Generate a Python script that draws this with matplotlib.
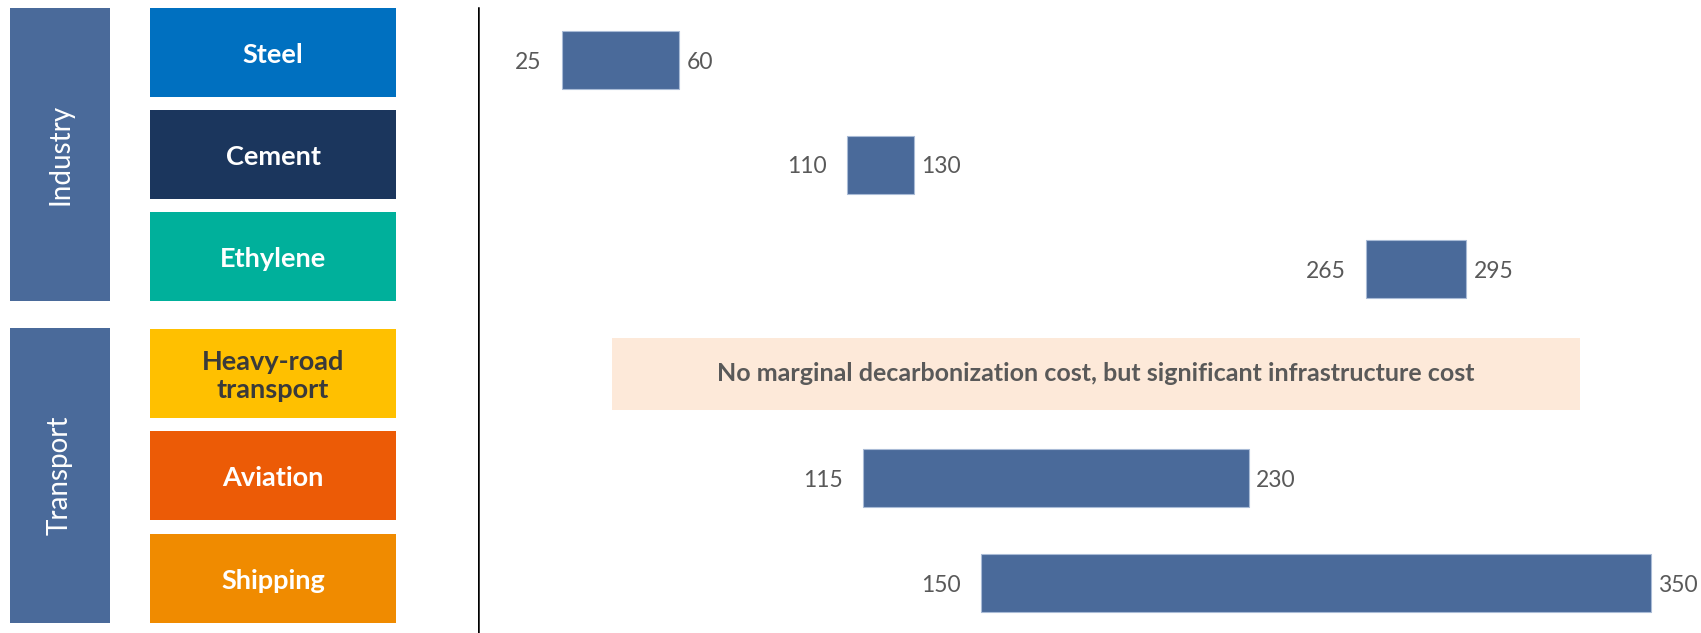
import matplotlib
matplotlib.use("Agg")
import matplotlib.pyplot as plt
from matplotlib.patches import Rectangle

# dados
sectors = ['Steel', 'Cement', 'Ethylene', 'Heavy-road\ntransport', 'Aviation', 'Shipping']
sector_colors = ['#0070C0', '#1B365D', '#00B09B', '#FFC000', '#EC5B06', '#F08B00']
sector_text = ['white', 'white', 'white', '#3A3A3A', 'white', 'white']
groups = ['Industry', 'Transport']
low = [25, 110, 265, None, 115, 150]
high = [60, 130, 295, None, 230, 350]
note_text = 'No marginal decarbonization cost, but significant infrastructure cost'
note_span = (40, 329)

plt.rcParams['font.family'] = ['Lato', 'DejaVu Sans']

W, H = 1701, 633
fig = plt.figure(figsize=(W / 100, H / 100), dpi=100)

# --- painel da esquerda (caixas de categorias), em pixels ---
axl = fig.add_axes([0, 0, 478 / W, 1])
axl.set_xlim(0, 478)
axl.set_ylim(H, 0)
axl.axis('off')

group_boxes = [(8, 301), (328, 623)]
for g, (y0, y1) in zip(groups, group_boxes):
    axl.add_patch(Rectangle((10, y0), 100, y1 - y0, color='#4A6A9A', lw=0))
    axl.text(60, (y0 + y1) / 2, g, rotation=90, color='white', fontsize=20,
             ha='center', va='center')

box_tops = [8, 110, 212, 329, 431, 534]
for name, top, c, tc in zip(sectors, box_tops, sector_colors, sector_text):
    axl.add_patch(Rectangle((150, top), 246, 89, color=c, lw=0))
    axl.text(273, top + 47, name, color=tc, fontsize=19.5, fontweight='bold',
             ha='center', va='center', linespacing=1.15)

# --- gráfico de barras flutuantes ---
ax = fig.add_axes([478 / W, 0, 1 - 478 / W, 1])
ax.set_xlim(0, 365)
ax.set_ylim(5.478, -0.574)
ax.axis('off')
ax.axvline(0, ymin=0, ymax=0.987, color='black', lw=1.8)

for i, (lo, hi) in enumerate(zip(low, high)):
    if lo is None:
        ax.barh(i, note_span[1] - note_span[0], left=note_span[0], height=0.69,
                color='#FDE9D9', lw=0)
        ax.text(sum(note_span) / 2, i, note_text, ha='center', va='center',
                fontsize=18, fontweight='bold', color='#595959')
        continue
    ax.barh(i, hi - lo, left=lo, height=0.555, color='#4A6A9A',
            edgecolor='#A9BBD6', lw=0.8)
    ax.annotate(str(lo), (lo, i), xytext=(-14.5, 0), textcoords='offset points',
                ha='right', va='center_baseline', fontsize=16.5, color='#595959')
    ax.annotate(str(hi), (hi, i), xytext=(5.5, 0), textcoords='offset points',
                ha='left', va='center_baseline', fontsize=16.5, color='#595959')

fig.savefig('out.png', dpi=100)
